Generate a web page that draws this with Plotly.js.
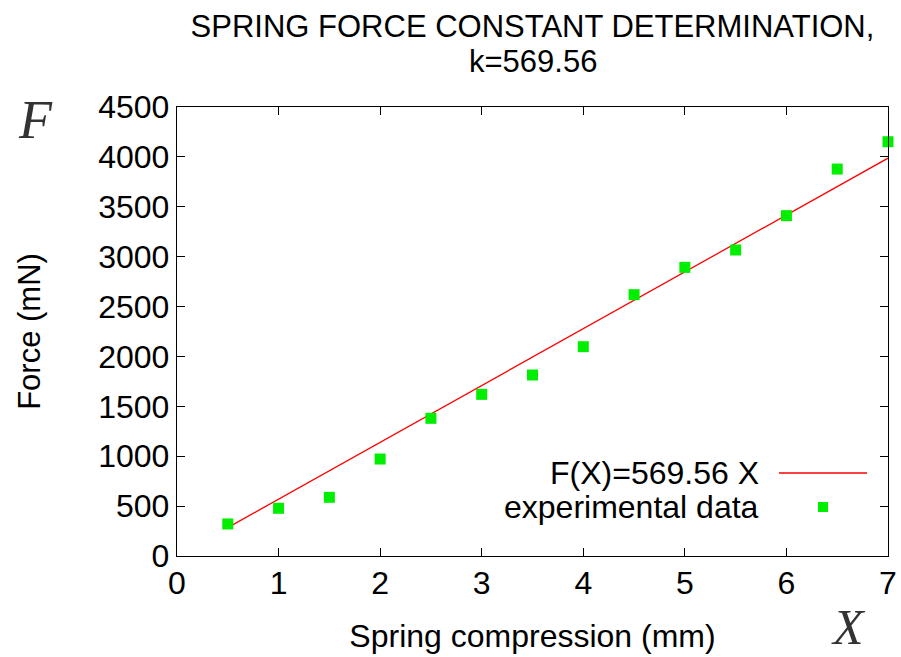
<!DOCTYPE html>
<html>
<head>
<meta charset="utf-8">
<script src="https://cdn.plot.ly/plotly-3.0.1.min.js"></script>
<style>html,body{margin:0;padding:0;background:#fff;}#chart{width:901px;height:657px;}</style>
</head>
<body>
<div id="chart"></div>
<script>
// Data
const compression = [0.5, 1, 1.5, 2, 2.5, 3, 3.5, 4, 4.5, 5, 5.5, 6, 6.5, 7];
const force = [321, 478, 588, 972, 1380, 1620, 1814, 2098, 2619, 2893, 3067, 3411, 3878, 4152];
const fitX = [0.5, 7];
const fitY = [284.78, 3986.92];
const xTicks = [0, 1, 2, 3, 4, 5, 6, 7];
const yTicks = [0, 500, 1000, 1500, 2000, 2500, 3000, 3500, 4000, 4500];
const titleLine1 = 'SPRING FORCE CONSTANT DETERMINATION,';
const titleLine2 = 'k=569.56';
const fitLabel = 'F(X)=569.56 X';
const dataLabel = 'experimental data';

const FONT = 'Liberation Sans, Arial, sans-serif';
const SERIF = 'Liberation Serif, Times New Roman, serif';

const traces = [
  {x: fitX, y: fitY, mode: 'lines', type: 'scatter', name: fitLabel,
   line: {color: '#ff0000', width: 1.3}, showlegend: false, hoverinfo: 'skip'},
  {x: compression, y: force, mode: 'markers', type: 'scatter', name: dataLabel,
   marker: {symbol: 'square', size: 11, color: '#00ee00', line: {width: 0}}, showlegend: false, cliponaxis: false}
];

const axisCommon = {
  showgrid: false, zeroline: false, showline: true, linecolor: '#000', linewidth: 1.2,
  mirror: 'ticks', ticks: 'inside', ticklen: 8, tickcolor: '#000', tickwidth: 1,
  tickfont: {family: FONT, size: 32, color: '#000'}
};

const layout = {
  width: 901, height: 657,
  margin: {l: 177, r: 13, t: 107, b: 101},
  paper_bgcolor: '#fff', plot_bgcolor: '#fff',
  font: {family: FONT, color: '#000'},
  title: {text: titleLine1, font: {family: FONT, size: 31, color: '#000'},
          xref: 'paper', x: 0.5, xanchor: 'center', yref: 'container', y: 1 - 26/657, yanchor: 'middle'},
  xaxis: Object.assign({}, axisCommon, {
    range: [0, 7], tickvals: xTicks, ticktext: xTicks.map(String), ticklabelstandoff: -2,
    title: {text: 'Spring compression (mm)', font: {family: FONT, size: 32, color: '#000'}, standoff: 25}
  }),
  yaxis: Object.assign({}, axisCommon, {
    range: [0, 4500], tickvals: yTicks, ticktext: yTicks.map(String), ticklabelstandoff: 0,
    title: {text: 'Force (mN)', font: {family: FONT, size: 31, color: '#000'}, standoff: 48}
  }),
  annotations: [
    {text: titleLine2, xref: 'paper', yref: 'paper', x: 0.5, y: (556-61)/449, xanchor: 'center', yanchor: 'middle',
     showarrow: false, font: {family: FONT, size: 31, color: '#000'}},
    {text: fitLabel, xref: 'paper', yref: 'paper', x: (761-177)/711, y: (556-473)/449, xanchor: 'right', yanchor: 'middle',
     showarrow: false, font: {family: FONT, size: 32, color: '#000'}},
    {text: dataLabel, xref: 'paper', yref: 'paper', x: (761-177)/711, y: (556-507)/449, xanchor: 'right', yanchor: 'middle',
     showarrow: false, font: {family: FONT, size: 32, color: '#000'}},
    {text: '<i>F</i>', xref: 'paper', yref: 'paper', x: (35-177)/711, y: (556-120)/449, xanchor: 'center', yanchor: 'middle',
     showarrow: false, font: {family: SERIF, size: 54, color: '#333'}},
    {text: '<i>X</i>', xref: 'paper', yref: 'paper', x: (848-177)/711, y: (556-627)/449, xanchor: 'center', yanchor: 'middle',
     showarrow: false, font: {family: SERIF, size: 50, color: '#333'}}
  ],
  shapes: [
    {type: 'line', xref: 'paper', yref: 'paper', x0: (779-177)/711, x1: (867-177)/711, y0: (556-473)/449, y1: (556-473)/449,
     line: {color: '#ff0000', width: 1.3}},
    {type: 'rect', xref: 'paper', yref: 'paper', x0: (818-177)/711, x1: (828-177)/711, y0: (556-512)/449, y1: (556-502)/449,
     line: {width: 0}, fillcolor: '#00ee00'}
  ]
};

Plotly.newPlot('chart', traces, layout, {staticPlot: true, displayModeBar: false});
</script>
</body>
</html>
